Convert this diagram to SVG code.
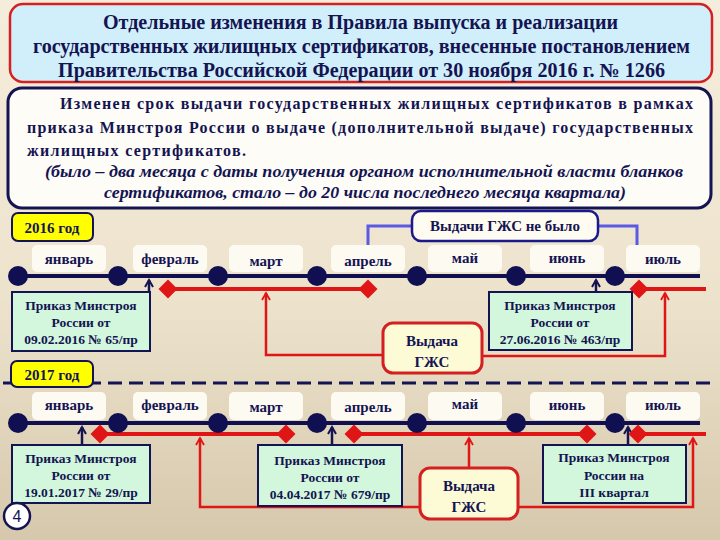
<svg xmlns="http://www.w3.org/2000/svg" width="720" height="540" viewBox="0 0 720 540">
<defs>
  <linearGradient id="bg" x1="0" y1="0" x2="0" y2="1">
    <stop offset="0" stop-color="#f5eddb"/>
    <stop offset="0.55" stop-color="#ede3cd"/>
    <stop offset="1" stop-color="#d6c8ac"/>
  </linearGradient>
  <marker id="arrN" viewBox="0 0 10 10" refX="8" refY="5" markerWidth="10" markerHeight="10" markerUnits="userSpaceOnUse" orient="auto">
    <path d="M1,1 L8,5 L1,9" fill="none" stroke="#141452" stroke-width="2"/>
  </marker>
  <marker id="arrR" viewBox="0 0 10 10" refX="8" refY="5" markerWidth="10" markerHeight="10" markerUnits="userSpaceOnUse" orient="auto">
    <path d="M1,1 L8,5 L1,9" fill="none" stroke="#e01515" stroke-width="1.8"/>
  </marker>
</defs>
<style>
  text { font-family: "Liberation Serif", "DejaVu Serif", serif; font-weight: bold; fill: #141452; }
  .title { font-size: 20px; }
  .body { font-size: 16px; }
  .it { font-size: 16px; font-style: italic; }
  .month { font-size: 15px; text-anchor: middle; }
  .small { font-size: 13.5px; text-anchor: middle; }
  .mid { font-size: 15px; text-anchor: middle; }
  .mbox { fill: #fdfaf2; stroke: none; }
  .dot { fill: #0f0f52; }
  .tl { stroke: #0f0f52; stroke-width: 4; fill: none; }
  .red { stroke: #e01515; stroke-width: 4; fill: none; }
  .rcon { stroke: #e01515; stroke-width: 2.5; fill: none; }
  .dia { fill: #e01515; }
  .pbox { fill: #d2f7dc; stroke: #141452; stroke-width: 2; }
  .vbox { fill: #fdfbd6; stroke: #d42020; stroke-width: 3; }
  .ybox { fill: #ffff00; stroke: #141452; stroke-width: 2; }
  .ncon { stroke: #141452; stroke-width: 2.5; fill: none; }
  .bcon { stroke: #5a5ae4; stroke-width: 3; fill: none; }
</style>
<rect x="0" y="0" width="720" height="540" fill="url(#bg)"/>

<g id="title">
  <rect x="10" y="4" width="702" height="78" rx="13" fill="#d1eefb" stroke="#d42020" stroke-width="2.5"/>
  <text class="title" x="103" y="29" textLength="515" lengthAdjust="spacingAndGlyphs">Отдельные изменения в Правила выпуска и реализации</text>
  <text class="title" x="33" y="53" textLength="657" lengthAdjust="spacingAndGlyphs">государственных жилищных сертификатов, внесенные постановлением</text>
  <text class="title" x="58" y="77" textLength="607" lengthAdjust="spacingAndGlyphs">Правительства Российской Федерации от 30 ноября 2016 г. № 1266</text>
</g>

<g id="note">
  <rect x="8" y="88" width="703" height="120" rx="14" fill="#fdfcf6" stroke="#141452" stroke-width="3"/>
  <text class="body" x="60" y="109" textLength="633" lengthAdjust="spacing">Изменен срок выдачи государственных жилищных сертификатов в рамках</text>
  <text class="body" x="27" y="133" textLength="666" lengthAdjust="spacing">приказа Минстроя России о выдаче (дополнительной выдаче) государственных</text>
  <text class="body" x="27" y="156" textLength="219" lengthAdjust="spacing">жилищных сертификатов.</text>
  <text class="it" x="45" y="177" textLength="638" lengthAdjust="spacingAndGlyphs">(было – два месяца с даты получения органом исполнительной власти бланков</text>
  <text class="it" x="104" y="198" textLength="522" lengthAdjust="spacingAndGlyphs">сертификатов, стало – до 20 числа последнего месяца квартала)</text>
</g>

<g id="connectors">
  <line class="tl" x1="18" y1="276" x2="700" y2="276"/>
  <line class="red" x1="168" y1="289" x2="368" y2="289"/>
  <line class="red" x1="639" y1="289" x2="706" y2="289"/>
  <path class="bcon" d="M412,226 H368 V245"/>
  <path class="bcon" d="M598,226 H637 V246"/>
  <path class="rcon" d="M383,355 H266 V293" marker-end="url(#arrR)"/>
  <path class="rcon" d="M482,356 H665 V293" marker-end="url(#arrR)"/>
  <line class="ncon" x1="149" y1="292" x2="149" y2="280" marker-end="url(#arrN)"/>
  <line class="ncon" x1="596" y1="292" x2="596" y2="280" marker-end="url(#arrN)"/>
  <line x1="3" y1="383" x2="710" y2="383" stroke="#141452" stroke-width="3" stroke-dasharray="14 7"/>
  <line class="tl" x1="18" y1="423" x2="700" y2="423"/>
  <line class="red" x1="100" y1="434" x2="285" y2="434"/>
  <line class="red" x1="354" y1="434" x2="587" y2="434"/>
  <line class="red" x1="638" y1="434" x2="706" y2="434"/>
  <path class="rcon" d="M420,507 H200 V438" marker-end="url(#arrR)"/>
  <path class="rcon" d="M518,507 H693 V438" marker-end="url(#arrR)"/>
  <line class="rcon" x1="469" y1="468" x2="469" y2="438" marker-end="url(#arrR)"/>
  <line class="ncon" x1="82" y1="445" x2="82" y2="427" marker-end="url(#arrN)"/>
  <line class="ncon" x1="332" y1="445" x2="332" y2="427" marker-end="url(#arrN)"/>
  <line class="ncon" x1="628" y1="445" x2="628" y2="427" marker-end="url(#arrN)"/>
</g>

<g id="timeline-2016">
  <rect class="mbox" x="32" y="245" width="74" height="27" rx="5"/>
  <rect class="mbox" x="133" y="245" width="74" height="27" rx="5"/>
  <rect class="mbox" x="229" y="245" width="74" height="27" rx="5"/>
  <rect class="mbox" x="331" y="245" width="74" height="27" rx="5"/>
  <rect class="mbox" x="428" y="245" width="74" height="27" rx="5"/>
  <rect class="mbox" x="530" y="245" width="74" height="27" rx="5"/>
  <rect class="mbox" x="626" y="245" width="74" height="27" rx="5"/>
  <text class="month" x="69" y="264">январь</text>
  <text class="month" x="170" y="264">февраль</text>
  <text class="month" x="266" y="266">март</text>
  <text class="month" x="368" y="266">апрель</text>
  <text class="month" x="465" y="263">май</text>
  <text class="month" x="567" y="263">июнь</text>
  <text class="month" x="663" y="264">июль</text>
  <circle class="dot" cx="18" cy="276" r="10"/>
  <circle class="dot" cx="118" cy="276" r="10"/>
  <circle class="dot" cx="218" cy="276" r="10"/>
  <circle class="dot" cx="317" cy="276" r="10"/>
  <circle class="dot" cx="417" cy="276" r="10"/>
  <circle class="dot" cx="516" cy="276" r="10"/>
  <circle class="dot" cx="615" cy="276" r="10"/>
  <polygon class="dia" points="168,279.5 177.5,289 168,298.5 158.5,289"/>
  <polygon class="dia" points="368,279.5 377.5,289 368,298.5 358.5,289"/>
  <polygon class="dia" points="639,279.5 648.5,289 639,298.5 629.5,289"/>
</g>

<g id="year-2016">
  <rect class="ybox" x="12" y="213" width="81" height="28" rx="6"/>
  <text x="52" y="233" font-size="15" text-anchor="middle">2016 год</text>
</g>

<g id="no-issue">
  <rect x="412" y="211" width="186" height="30" rx="9" fill="#fefcf0" stroke="#1a1a8a" stroke-width="2.5"/>
  <text x="505" y="231" font-size="15" text-anchor="middle">Выдачи ГЖС не было</text>
</g>

<g id="order-2016-02">
  <rect class="pbox" x="12" y="292" width="138" height="59"/>
  <text class="small" x="81" y="310">Приказ Минстроя</text>
  <text class="small" x="81" y="327">России от</text>
  <text class="small" x="81" y="344">09.02.2016 № 65/пр</text>
</g>

<g id="order-2016-06">
  <rect class="pbox" x="489" y="292" width="143" height="58"/>
  <text class="small" x="560" y="310">Приказ Минстроя</text>
  <text class="small" x="560" y="327">России от</text>
  <text class="small" x="560" y="344">27.06.2016 № 463/пр</text>
</g>

<g id="issue-2016">
  <rect class="vbox" x="383" y="323" width="99" height="50" rx="10"/>
  <text class="mid" x="432" y="346">Выдача</text>
  <text class="mid" x="432" y="367">ГЖС</text>
</g>

<g id="year-2017">
  <rect class="ybox" x="11" y="361" width="82" height="26" rx="6"/>
  <text x="52" y="380" font-size="15" text-anchor="middle">2017 год</text>
</g>

<g id="timeline-2017">
  <rect class="mbox" x="32" y="392" width="74" height="28" rx="5"/>
  <rect class="mbox" x="133" y="392" width="74" height="28" rx="5"/>
  <rect class="mbox" x="229" y="392" width="74" height="28" rx="5"/>
  <rect class="mbox" x="331" y="392" width="74" height="28" rx="5"/>
  <rect class="mbox" x="428" y="392" width="74" height="28" rx="5"/>
  <rect class="mbox" x="530" y="392" width="74" height="28" rx="5"/>
  <rect class="mbox" x="626" y="392" width="74" height="28" rx="5"/>
  <text class="month" x="69" y="410">январь</text>
  <text class="month" x="170" y="410">февраль</text>
  <text class="month" x="266" y="412">март</text>
  <text class="month" x="368" y="412">апрель</text>
  <text class="month" x="465" y="409">май</text>
  <text class="month" x="567" y="410">июнь</text>
  <text class="month" x="663" y="410">июль</text>
  <circle class="dot" cx="18" cy="423" r="10"/>
  <circle class="dot" cx="118" cy="423" r="10"/>
  <circle class="dot" cx="218" cy="423" r="10"/>
  <circle class="dot" cx="317" cy="423" r="10"/>
  <circle class="dot" cx="417" cy="423" r="10"/>
  <circle class="dot" cx="516" cy="423" r="10"/>
  <circle class="dot" cx="615" cy="423" r="10"/>
  <polygon class="dia" points="100,424.5 109.5,434 100,443.5 90.5,434"/>
  <polygon class="dia" points="286,424.5 295.5,434 286,443.5 276.5,434"/>
  <polygon class="dia" points="354,424.5 363.5,434 354,443.5 344.5,434"/>
  <polygon class="dia" points="587,424.5 596.5,434 587,443.5 577.5,434"/>
  <polygon class="dia" points="638,424.5 647.5,434 638,443.5 628.5,434"/>
</g>

<g id="order-2017-01">
  <rect class="pbox" x="12" y="445" width="138" height="58"/>
  <text class="small" x="81" y="463">Приказ Минстроя</text>
  <text class="small" x="81" y="480">России от</text>
  <text class="small" x="81" y="497">19.01.2017 № 29/пр</text>
</g>

<g id="order-2017-04">
  <rect class="pbox" x="258" y="445" width="144" height="61"/>
  <text class="small" x="330" y="465">Приказ Минстроя</text>
  <text class="small" x="330" y="482">России от</text>
  <text class="small" x="330" y="499">04.04.2017 № 679/пр</text>
</g>

<g id="order-2017-q3">
  <rect class="pbox" x="543" y="445" width="143" height="58"/>
  <text class="small" x="614" y="462">Приказ Минстроя</text>
  <text class="small" x="614" y="480">России на</text>
  <text class="small" x="614" y="497">III квартал</text>
</g>

<g id="issue-2017">
  <rect class="vbox" x="420" y="468" width="98" height="51" rx="10"/>
  <text class="mid" x="469" y="491">Выдача</text>
  <text class="mid" x="469" y="512">ГЖС</text>
</g>

<g id="page-number">
  <circle cx="17" cy="516" r="13" fill="#ffffff" stroke="#141452" stroke-width="2.5"/>
  <text x="17" y="522" font-size="16" text-anchor="middle" style="font-family:'Liberation Sans',Arial,sans-serif;font-weight:normal">4</text>
</g>
</svg>
